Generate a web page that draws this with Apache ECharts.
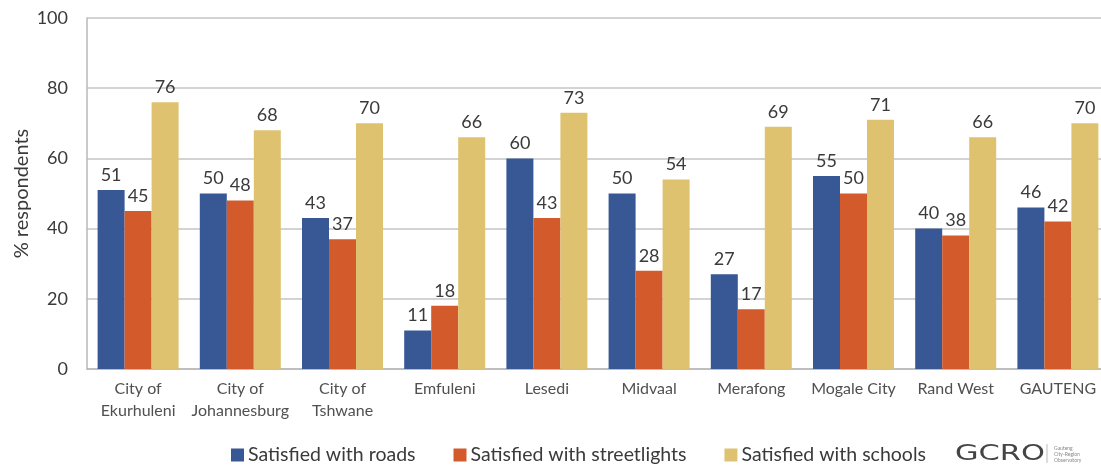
<!DOCTYPE html>
<html>
<head>
<meta charset="utf-8">
<script src="https://cdn.jsdelivr.net/npm/echarts@6/dist/echarts.min.js"></script>
<style>
html,body{margin:0;padding:0;background:#fff;}
#chart{width:1101px;height:465px;}
</style>
</head>
<body>
<div id="chart"></div>
<script>
const categories = ['City of\nEkurhuleni','City of\nJohannesburg','City of\nTshwane','Emfuleni','Lesedi','Midvaal','Merafong','Mogale City','Rand West','GAUTENG'];
const roads = [51, 50, 43, 11, 60, 50, 27, 55, 40, 46];
const streetlights = [45, 48, 37, 18, 43, 28, 17, 50, 38, 42];
const schools = [76, 68, 70, 66, 73, 54, 69, 71, 66, 70];
const seriesNames = ['Satisfied with roads','Satisfied with streetlights','Satisfied with schools'];
const colors = ['#385795','#d35a2b','#dfc270'];

const FONT = 'Lato';
const chart = echarts.init(document.getElementById('chart'));
function bar(name, data, color){
  return {
    name, type:'bar', data, barWidth:27, barGap:'0%',
    itemStyle:{color},
    label:{show:true, position:'top', distance:6, color:'#3a3a3a', fontFamily:FONT, fontSize:18}
  };
}
chart.setOption({
  animation:false,
  textStyle:{fontFamily:FONT},
  grid:{left:87, right:-8, top:18, bottom:96, containLabel:false, outerBoundsMode:'none'},
  legend:{
    top:440, left:226, itemWidth:13, itemHeight:13, itemGap:38,
    icon:'rect',
    textStyle:{fontFamily:FONT, fontSize:19.5, color:'#3a3a3a', padding:[0,0,0,-1]},
    data:seriesNames
  },
  xAxis:{
    type:'category', data:categories,
    axisLine:{lineStyle:{color:'#b8b8b8', width:1.5}},
    axisTick:{show:false},
    axisLabel:{color:'#505050', fontFamily:FONT, fontSize:16, lineHeight:22, margin:9, interval:0}
  },
  yAxis:{
    type:'value', min:0, max:100, interval:20,
    name:'% respondents', nameLocation:'middle', nameGap:55, nameRotate:90, nameMoveOverlap:false,
    nameTextStyle:{fontFamily:FONT, fontSize:20, color:'#3a3a3a'},
    axisLine:{show:true, lineStyle:{color:'#b8b8b8', width:1.5}},
    axisTick:{show:false},
    splitLine:{lineStyle:{color:'#c4c4c4', width:1.5}},
    axisLabel:{color:'#3a3a3a', fontFamily:FONT, fontSize:18, margin:19}
  },
  graphic:[
    {type:'text', x:955, y:444, scaleX:1.45, style:{text:'GCRO', fontFamily:'DejaVu Sans', fontSize:21, fill:'#444'}},
    {type:'line', shape:{x1:1047, y1:444, x2:1047, y2:463}, style:{stroke:'#bbb', lineWidth:1}},
    {type:'text', x:1054, y:445, style:{text:'Gauteng\nCity-Region\nObservatory', fontFamily:FONT, fontSize:5, lineHeight:6, fill:'#888'}}
  ],
  series:[
    bar(seriesNames[0], roads, colors[0]),
    bar(seriesNames[1], streetlights, colors[1]),
    bar(seriesNames[2], schools, colors[2])
  ]
});
</script>
</body>
</html>
